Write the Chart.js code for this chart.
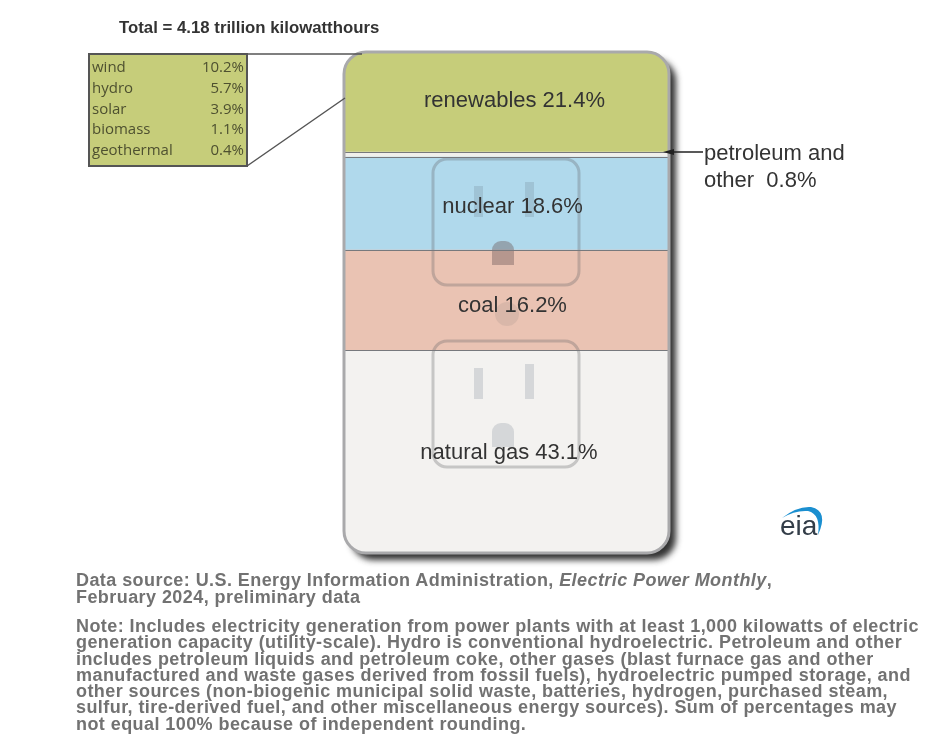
<!DOCTYPE html>
<html>
<head>
<meta charset="utf-8">
<title>Electricity generation by source</title>
<script src="https://cdn.jsdelivr.net/npm/chart.js@4"></script>
<style>
  html, body { margin: 0; padding: 0; background: #fff; }
  #wrap { position: relative; width: 944px; height: 747px; overflow: hidden; }
  #chart { position: absolute; left: 0; top: 0; filter: blur(0.5px); }
  .note {
    position: absolute; left: 76px; margin: 0; white-space: nowrap;
    font: bold 18px/16.3px "Liberation Sans", Arial, sans-serif;
    color: #727272; letter-spacing: 0.43px; filter: blur(0.5px);
  }
</style>
</head>
<body>
<div id="wrap">
  <canvas id="chart" width="944" height="747"></canvas>
  <p class="note" style="top:572px;line-height:17px">Data source: U.S. Energy Information Administration, <em>Electric Power Monthly</em>,<br>February 2024, preliminary data</p>
  <p class="note" style="top:618px">Note: Includes electricity generation from power plants with at least 1,000 kilowatts of electric<br>generation capacity (utility-scale). Hydro is conventional hydroelectric. Petroleum and other<br>includes petroleum liquids and petroleum coke, other gases (blast furnace gas and other<br>manufactured and waste gases derived from fossil fuels), hydroelectric pumped storage, and<br>other sources (non-biogenic municipal solid waste, batteries, hydrogen, purchased steam,<br>sulfur, tire-derived fuel, and other miscellaneous energy sources). Sum of percentages may<br>not equal 100% because of independent rounding.</p>
</div>
<script>
// bottom to top, same order as the stack on the plate
const categories = ['natural gas', 'coal', 'nuclear', 'petroleum and other', 'renewables'];
const shares = [43.1, 16.2, 18.6, 0.8, 21.4];
// band heights as drawn in the picture (% of plate), the source art is not to scale
const drawnHeights = [40.5, 20, 18.6, 1, 20];
const bandColors = ['#f3f2f0', '#eac3b3', '#b0d9ec', '#f1f0ec', '#c6cd7a'];

const renewableNames = ['wind', 'hydro', 'solar', 'biomass', 'geothermal'];
const renewableShares = [10.2, 5.7, 3.9, 1.1, 0.4];

const titleText = 'Total = 4.18 trillion kilowatthours';

function roundRect(c, x, y, w, h, r) {
  c.beginPath();
  c.roundRect(x, y, w, h, r);
}

function drawOutlet(c, top, groundColor) {
  c.strokeStyle = 'rgba(95,95,100,0.3)';
  c.lineWidth = 3;
  roundRect(c, 433, top, 146, 126, 14);
  c.stroke();
  c.fillStyle = 'rgba(95,110,125,0.2)';
  c.fillRect(474, top + 27, 9, 31);
  c.fillRect(525, top + 23, 9, 35);
  c.fillStyle = groundColor;
  roundRect(c, 492, top + 82, 22, 24, [9, 9, 0, 0]);
  c.fill();
}

// plate shadow goes under the bars
const platePlugin = {
  id: 'plate',
  beforeDatasetsDraw(chart) {
    const c = chart.ctx, a = chart.chartArea;
    c.save();
    c.shadowColor = 'rgba(30,30,30,0.9)';
    c.shadowBlur = 6;
    c.shadowOffsetX = 7;
    c.shadowOffsetY = 7;
    c.fillStyle = '#999';
    roundRect(c, a.left, a.top, a.width, a.height, 22);
    c.fill();
    c.restore();
  },
  afterDatasetsDraw(chart) {
    const c = chart.ctx, a = chart.chartArea;
    c.save();
    // outlets sit on top of the colour bands
    drawOutlet(c, 159, 'rgba(110,90,90,0.42)');
    drawOutlet(c, 341, 'rgba(95,110,125,0.2)');
    c.fillStyle = 'rgba(110,110,110,0.13)';
    c.beginPath();
    c.arc(507, 314, 12, 0, Math.PI * 2);
    c.fill();

    // lines between the bands
    c.strokeStyle = '#77797d';
    c.lineWidth = 1;
    for (let i = 0; i < 4; i++) {
      const y = Math.round(chart.getDatasetMeta(i).data[0].y) + 0.5;
      c.beginPath();
      c.moveTo(a.left, y);
      c.lineTo(a.right, y);
      c.stroke();
    }
    c.strokeStyle = '#a9a9ab';
    c.lineWidth = 3;
    roundRect(c, a.left, a.top, a.width, a.height, 22);
    c.stroke();

    // band labels
    const dy = [1, 6, 3, 0, -1];
    const dx = [2.5, 6, 6, 0, 8];
    c.font = '22px "Liberation Sans", Arial, sans-serif';
    c.fillStyle = '#333';
    c.textAlign = 'center';
    c.textBaseline = 'middle';
    categories.forEach((name, i) => {
      if (i === 3) return;
      const bar = chart.getDatasetMeta(i).data[0];
      c.fillText(name + ' ' + shares[i].toFixed(1) + '%', (a.left + a.right) / 2 + dx[i], (bar.y + bar.base) / 2 + dy[i]);
    });

    // petroleum callout
    const pet = chart.getDatasetMeta(3).data[0];
    const py = Math.round(pet.y);
    c.strokeStyle = '#222';
    c.lineWidth = 1.5;
    c.beginPath();
    c.moveTo(703, py);
    c.lineTo(672, py);
    c.stroke();
    c.fillStyle = '#222';
    c.beginPath();
    c.moveTo(663, py);
    c.lineTo(674, py - 3);
    c.lineTo(674, py + 3);
    c.fill();
    c.fillStyle = '#333';
    c.textAlign = 'left';
    c.fillText('petroleum and', 704, 154);
    c.fillText('other  ' + shares[3].toFixed(1) + '%', 704, 181);

    // renewables breakdown box
    c.strokeStyle = '#555';
    c.lineWidth = 1.5;
    c.beginPath();
    c.moveTo(247, 54);
    c.lineTo(362, 54);
    c.moveTo(247, 166);
    c.lineTo(345, 98);
    c.stroke();
    c.fillStyle = bandColors[4];
    c.fillRect(89, 54, 158, 112);
    c.lineWidth = 2;
    c.strokeRect(89, 54, 158, 112);
    c.font = '15px "Open Sans", sans-serif';
    c.fillStyle = '#4e5030';
    renewableNames.forEach((name, i) => {
      const y = 68 + i * 20.7;
      c.textAlign = 'left';
      c.fillText(name, 92, y);
      c.textAlign = 'right';
      c.fillText(renewableShares[i].toFixed(1) + '%', 244, y);
    });

    // title
    c.font = 'bold 16.8px "Liberation Sans", Arial, sans-serif';
    c.fillStyle = '#333';
    c.textAlign = 'left';
    c.fillText(titleText, 119, 28);

    // eia logo
    c.font = '28px "Liberation Sans", Arial, sans-serif';
    c.fillStyle = '#333d48';
    c.fillText('eia', 780, 527);
    c.fillStyle = '#1b8fd0';
    c.beginPath();
    c.moveTo(782, 518);
    c.quadraticCurveTo(797, 506, 811, 507);
    c.quadraticCurveTo(829, 511, 818, 535);
    c.quadraticCurveTo(821, 514, 808, 511);
    c.quadraticCurveTo(795, 510, 782, 518);
    c.fill();
    c.restore();
  }
};

new Chart(document.getElementById('chart'), {
  type: 'bar',
  data: {
    labels: ['share'],
    datasets: categories.map((name, i) => ({
      label: name,
      data: [drawnHeights[i]],
      backgroundColor: bandColors[i],
      borderWidth: 0,
      borderSkipped: false,
      borderRadius: i === 0 ? { bottomLeft: 22, bottomRight: 22, topLeft: 0, topRight: 0 }
        : i === 4 ? { topLeft: 22, topRight: 22, bottomLeft: 0, bottomRight: 0 } : 0
    }))
  },
  options: {
    responsive: false,
    animation: false,
    devicePixelRatio: 1,
    layout: { padding: { left: 344, right: 275, top: 52, bottom: 194 } },
    datasets: { bar: { barPercentage: 1, categoryPercentage: 1 } },
    plugins: { legend: { display: false }, tooltip: { enabled: false }, title: { display: false } },
    scales: {
      x: { stacked: true, display: false },
      y: { stacked: true, display: false, min: 0, max: 100.1 }
    }
  },
  plugins: [platePlugin]
});
</script>
</body>
</html>
